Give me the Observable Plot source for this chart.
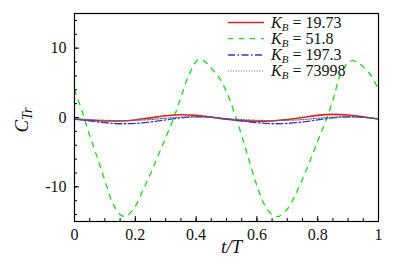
<!DOCTYPE html>
<html>
<head>
<meta charset="utf-8">
<script src="https://cdn.jsdelivr.net/npm/d3@7"></script>
<script src="https://cdn.jsdelivr.net/npm/@observablehq/plot@0.6"></script>
<style>
  html, body { margin: 0; padding: 0; background: #fff; }
  #chart { width: 407px; height: 272px; }
</style>
</head>
<body>
<div id="chart"></div>
<script>
// ---- data ----
const greenT = [0, 0.025, 0.05, 0.075, 0.1, 0.125, 0.15, 0.165, 0.175, 0.2, 0.225, 0.25, 0.275, 0.3, 0.325, 0.35, 0.375, 0.4, 0.41, 0.425, 0.45, 0.475, 0.5, 0.525, 0.55, 0.575, 0.6, 0.625, 0.65, 0.67, 0.675, 0.7, 0.725, 0.75, 0.775, 0.8, 0.825, 0.85, 0.875, 0.9, 0.915, 0.925, 0.95, 0.975, 1.0];
const greenV = [4.0, 0.9, -2.6, -5.8, -9.1, -12.3, -14.0, -14.3, -14.1, -12.8, -10.5, -8.1, -5.5, -2.9, -0.2, 2.9, 6.0, 8.1, 8.4, 8.2, 7.1, 5.8, 3.7, 0.8, -2.6, -6.3, -9.8, -12.6, -14.0, -14.3, -14.2, -13.2, -11.3, -8.9, -6.2, -3.4, -0.7, 2.5, 6.2, 7.9, 8.2, 8.1, 7.3, 6.1, 4.0];

const smallT = [0, 0.05, 0.1, 0.15, 0.2, 0.25, 0.3, 0.35, 0.4, 0.45, 0.5, 0.55, 0.6, 0.65, 0.7, 0.75, 0.8, 0.85, 0.9, 0.95, 1.0];
const redV  = [-0.25, -0.4, -0.5, -0.5, -0.35, -0.05, 0.25, 0.4, 0.3, 0.05, -0.25, -0.45, -0.55, -0.5, -0.3, 0.0, 0.3, 0.45, 0.35, 0.1, -0.25];
const blueV = [-0.2, -0.5, -0.75, -0.9, -0.85, -0.65, -0.35, -0.05, 0.1, 0.05, -0.2, -0.5, -0.75, -0.9, -0.85, -0.65, -0.35, -0.05, 0.1, 0.05, -0.2];
const grayV = [-0.15, -0.3, -0.4, -0.45, -0.4, -0.3, -0.1, 0.05, 0.1, 0.0, -0.15, -0.3, -0.4, -0.45, -0.4, -0.3, -0.1, 0.05, 0.1, 0.0, -0.15];

const seriesLabels = ["19.73", "51.8", "197.3", "73998"];
const xTicks = [0, 0.2, 0.4, 0.6, 0.8, 1];
const xTickLabels = ["0", "0.2", "0.4", "0.6", "0.8", "1"];
const yTicks = [-10, 0, 10];
const yTickLabels = ["-10", "0", "10"];

// ---- build ----
const styles = [
  {color: "#dd2222", dash: null, w: 1.6},
  {color: "#11dd11", dash: "5,6", w: 1.3},
  {color: "#3333ee", dash: "7,2.5,1.5,2.5", w: 1.3},
  {color: "#666666", dash: "1,1.6", w: 1.2}
];
const mk = (T, V) => T.map((t, i) => ({t, v: V[i]}));
const series = [mk(smallT, redV), mk(greenT, greenV), mk(smallT, blueV), mk(smallT, grayV)];

const FONT = "Liberation Serif";
const xMinor = d3.range(0, 1.0001, 0.05);
const yMinor = d3.range(-14, 14.001, 2);

const lineMarks = [1, 0, 2, 3].map(i => Plot.line(series[i], {
  x: "t", y: "v", curve: "catmull-rom",
  stroke: styles[i].color, strokeWidth: styles[i].w,
  strokeDasharray: styles[i].dash
}));

const plot = Plot.plot({
  width: 407, height: 272,
  marginLeft: 74, marginRight: 29, marginTop: 13, marginBottom: 51,
  style: {fontFamily: FONT, fontSize: "16px", background: "#fff", overflow: "visible"},
  x: {domain: [0, 1]},
  y: {domain: [-15, 15]},
  marks: [
    ...lineMarks,
    Plot.frame({stroke: "#000", strokeWidth: 1.2}),
    // inward minor ticks
    Plot.axisX({ticks: xMinor, tickSize: -3, text: null, label: null}),
    Plot.axisY({ticks: yMinor, tickSize: -3, text: null, label: null}),
    // inward major ticks
    Plot.axisX({ticks: xTicks, tickSize: -5, text: null, label: null}),
    Plot.axisY({ticks: yTicks, tickSize: -5, text: null, label: null}),
    // labels
    Plot.axisX({ticks: xTicks, tickSize: 0, tickPadding: 7, fontSize: 16,
      tickFormat: (d) => xTickLabels[xTicks.indexOf(d)], label: null}),
    Plot.axisY({ticks: yTicks, tickSize: 0, tickPadding: 8, fontSize: 16,
      tickFormat: (d) => yTickLabels[yTicks.indexOf(d)], label: null})
  ]
});
document.getElementById("chart").appendChild(plot);

// ---- axis titles and legend ----
const svg = d3.select(plot);

// y title
const yt = svg.append("text")
  .attr("transform", "translate(28,120) rotate(-90)")
  .attr("text-anchor", "middle")
  .attr("font-size", 19).attr("font-style", "italic");
yt.append("tspan").text("C");
yt.append("tspan").attr("dy", 4).attr("font-size", 14).text("Tr");

// x title
svg.append("text")
  .attr("x", 231.5).attr("y", 253)
  .attr("text-anchor", "middle")
  .attr("font-size", 19).attr("font-style", "italic")
  .text("t/T");

// legend
const legY = [22.5, 38.7, 55, 71];
seriesLabels.forEach((lab, i) => {
  const s = styles[i];
  svg.append("line")
    .attr("x1", 228).attr("x2", 264).attr("y1", legY[i]).attr("y2", legY[i])
    .attr("stroke", s.color).attr("stroke-width", s.w)
    .attr("stroke-dasharray", s.dash);
  const t = svg.append("text")
    .attr("x", 271).attr("y", legY[i] + 5)
    .attr("text-anchor", "start")
    .attr("font-size", 16);
  t.append("tspan").attr("font-style", "italic").text("K");
  t.append("tspan").attr("font-style", "italic").attr("font-size", 11).attr("dy", 3).text("B");
  t.append("tspan").attr("dy", -3).attr("dx", 4).text("= " + lab);
});

svg.selectAll("text")
  .attr("font-family", FONT)
  .style("font-family", FONT)
  .attr("fill", "#111");
</script>
</body>
</html>
